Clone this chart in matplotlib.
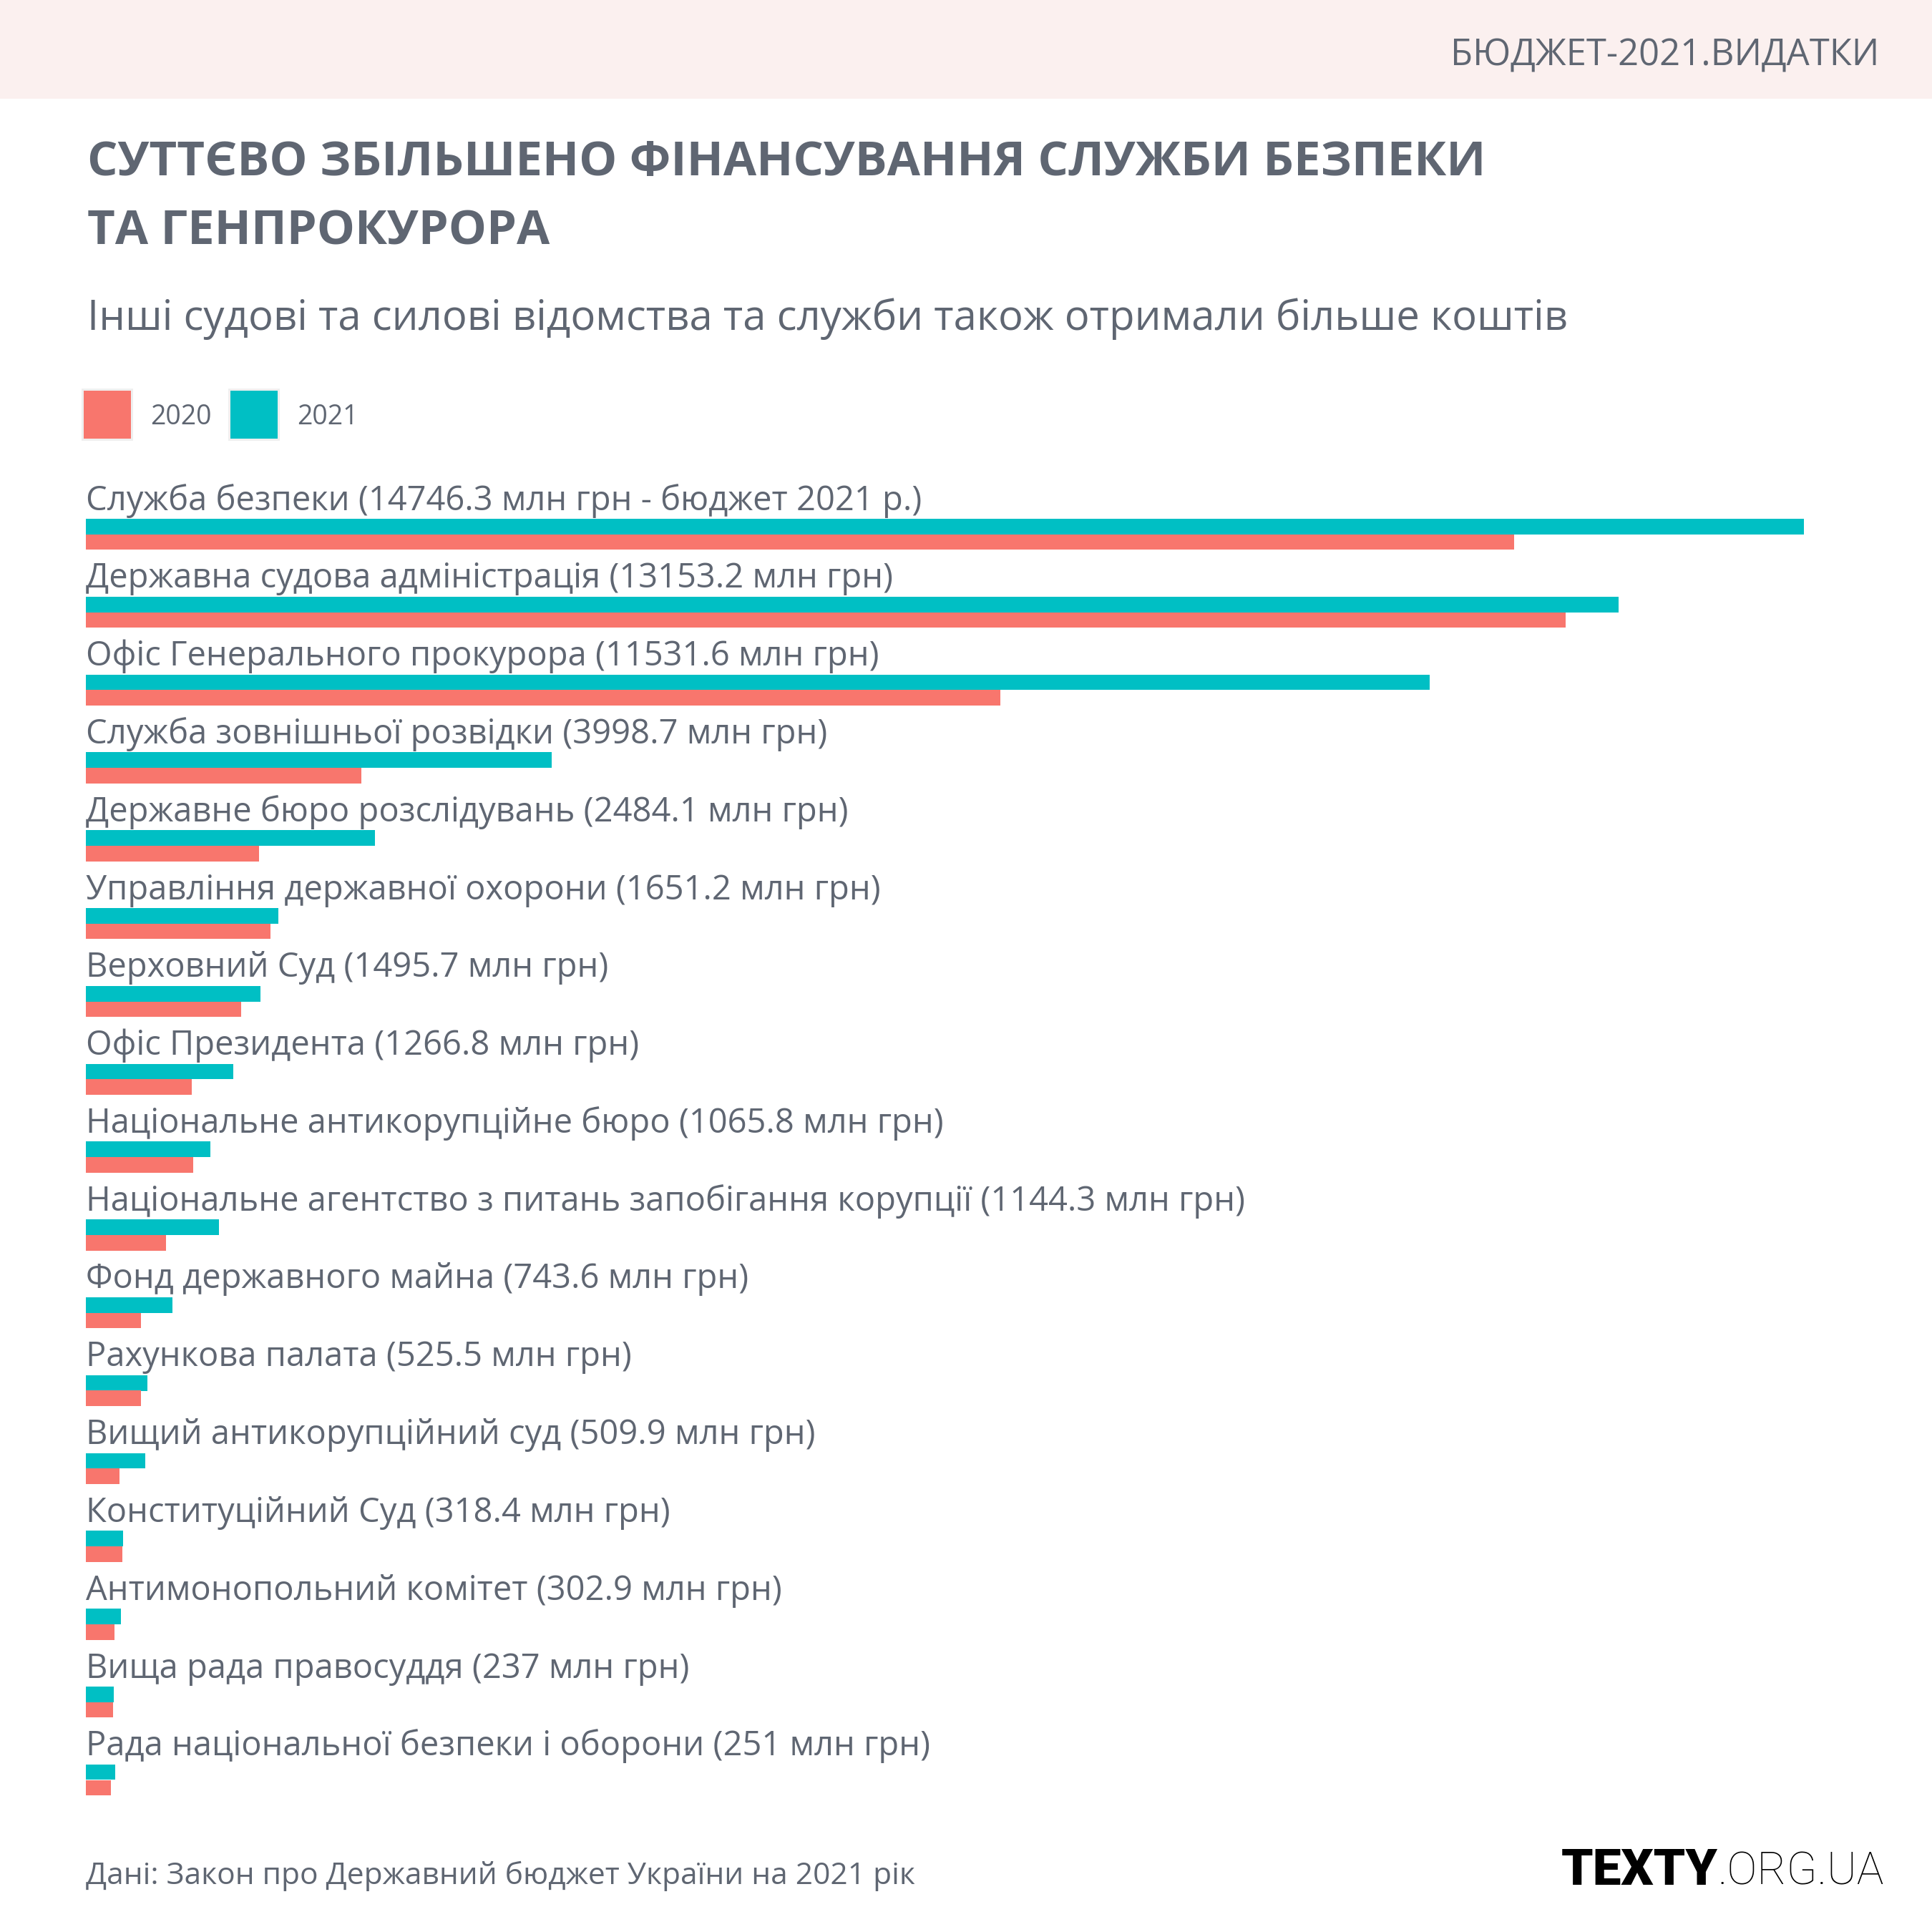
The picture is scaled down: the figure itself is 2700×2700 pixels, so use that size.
import matplotlib
matplotlib.use("Agg")
import matplotlib.pyplot as plt
from matplotlib.patches import Rectangle

# Data (млн грн)
names = [
    "Служба безпеки",
    "Державна судова адміністрація",
    "Офіс Генерального прокурора",
    "Служба зовнішньої розвідки",
    "Державне бюро розслідувань",
    "Управління державної охорони",
    "Верховний Суд",
    "Офіс Президента",
    "Національне антикорупційне бюро",
    "Національне агентство з питань запобігання корупції",
    "Фонд державного майна",
    "Рахункова палата",
    "Вищий антикорупційний суд",
    "Конституційний Суд",
    "Антимонопольний комітет",
    "Вища рада правосуддя",
    "Рада національної безпеки і оборони",
]
budget_2021 = [14746.3, 13153.2, 11531.6, 3998.7, 2484.1, 1651.2, 1495.7, 1266.8,
               1065.8, 1144.3, 743.6, 525.5, 509.9, 318.4, 302.9, 237, 251]
budget_2020 = [12260, 12700, 7850, 2365, 1486, 1585, 1333, 909,
               921, 688, 473, 473, 289, 313, 246, 233, 215]
years = ["2020", "2021"]

# Constants
W = H = 2700
DPI = 300
RED = "#f8766d"
TEAL = "#00bfc4"
GRAY = "#5f6672"
FONT = "Open Sans"

plt.rcParams["font.family"] = [FONT, "DejaVu Sans"]


def fx(px):
    return px / W


def fy(py):
    return 1 - py / H


fig = plt.figure(figsize=(W / DPI, H / DPI), dpi=DPI, facecolor="white")

# header band
fig.patches.append(Rectangle((0, fy(138)), 1, 138 / H, transform=fig.transFigure,
                             facecolor="#fbf0ef", edgecolor="none", zorder=0))
fig.text(fx(2626), fy(91), "БЮДЖЕТ-2021.ВИДАТКИ", ha="right", va="baseline",
         fontsize=12.2, color=GRAY)

# title + subtitle
fig.text(fx(122), fy(245), "СУТТЄВО ЗБІЛЬШЕНО ФІНАНСУВАННЯ СЛУЖБИ БЕЗПЕКИ",
         ha="left", va="baseline", fontsize=16.1, fontweight="bold", color=GRAY)
fig.text(fx(122), fy(341), "ТА ГЕНПРОКУРОРА",
         ha="left", va="baseline", fontsize=16.1, fontweight="bold", color=GRAY)
fig.text(fx(122), fy(461),
         "Інші судові та силові відомства та служби також отримали більше коштів",
         ha="left", va="baseline", fontsize=13.95, color=GRAY)

# legend
for x0, col, lab in [(117, RED, years[0]), (322, TEAL, years[1])]:
    fig.patches.append(Rectangle((fx(x0 - 3), fy(616)), 72 / W, 73 / H,
                                 transform=fig.transFigure, facecolor="#efefef",
                                 edgecolor="none"))
    fig.patches.append(Rectangle((fx(x0), fy(613)), 66 / W, 67 / H,
                                 transform=fig.transFigure, facecolor=col,
                                 edgecolor="none"))
    fig.text(fx(x0 + 93), fy(593), lab, ha="left", va="baseline",
             fontsize=9.0, color=GRAY)

# bars
row_px = 108.8
center0 = 746.7
bar_h = 21.7 / row_px
top_px, bot_px = 640, 2540
ax = fig.add_axes([fx(120), fy(bot_px), fx(2521) - fx(120), (bot_px - top_px) / H])
ax.set_xlim(0, max(budget_2021))
ax.set_ylim((bot_px - center0) / row_px, (top_px - center0) / row_px)
ax.axis("off")

ys = list(range(len(names)))
ax.barh([y - bar_h / 2 for y in ys], budget_2021, height=bar_h, color=TEAL, linewidth=0)
ax.barh([y + bar_h / 2 for y in ys], budget_2020, height=bar_h, color=RED, linewidth=0)

for i, (n, v) in enumerate(zip(names, budget_2021)):
    extra = " - бюджет 2021 р." if i == 0 else ""
    ax.text(0, i - (21.7 + 12.5) / row_px, f"{n} ({v:g} млн грн{extra})",
            ha="left", va="baseline", fontsize=11.3, color=GRAY)

# footer
fig.text(fx(120), fy(2633), "Дані: Закон про Державний бюджет України на 2021 рік",
         ha="left", va="baseline", fontsize=10.2, color=GRAY)

# logo: bold part, then light part right after it
t1 = fig.text(fx(2182), fy(2634), "TEXTY", ha="left", va="baseline",
              fontsize=17.0, fontweight="black", color="black", family="Roboto")
r = fig.canvas.get_renderer()
bb = t1.get_window_extent(renderer=r)
t2 = fig.text(bb.x1 / W, fy(2634), ".ORG.UA", ha="left", va="baseline",
              fontsize=17.0, fontweight="light", color="black", family="Roboto")
bb2 = t2.get_window_extent(renderer=r)
if bb2.x1 > 2634:
    t2.set_fontsize(17.0 * (2634 - bb.x1) / (bb2.x1 - bb.x1))

fig.savefig("out.png", dpi=DPI, facecolor="white")
